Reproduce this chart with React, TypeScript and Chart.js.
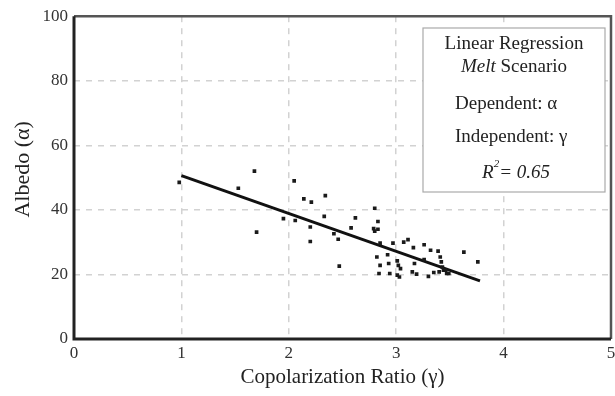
import React, { useEffect, useRef } from "react";
import { Chart, registerables } from "chart.js";

Chart.register(...registerables);

const xTicks = [0, 1, 2, 3, 4, 5];
const yTicks = [0, 20, 40, 60, 80, 100];

const ratioValues = [
  0.98, 1.53, 1.68, 1.70, 1.95, 2.05, 2.06, 2.14, 2.21, 2.34,
  2.20, 2.20, 2.33, 2.42, 2.46, 2.47, 2.58, 2.62, 2.80, 2.83,
  2.79, 2.83, 2.80, 2.85, 2.82, 2.85, 2.84, 2.92, 2.93, 2.94,
  2.97, 3.01, 3.02, 3.04, 3.01, 3.03, 3.07, 3.11, 3.16, 3.15,
  3.17, 3.19, 3.26, 3.26, 3.30, 3.32, 3.35, 3.39, 3.41, 3.42,
  3.43, 3.44, 3.40, 3.46, 3.47, 3.49, 3.63, 3.76,
];
const albedoValues = [
  48.5, 46.7, 52.0, 33.1, 37.3, 49.0, 36.7, 43.4, 42.4, 44.4,
  34.7, 30.2, 38.0, 32.6, 30.9, 22.6, 34.4, 37.5, 40.5, 36.4,
  34.2, 34.0, 33.4, 29.7, 25.4, 22.8, 20.3, 26.1, 23.4, 20.3,
  29.7, 24.2, 22.8, 21.8, 19.8, 19.2, 30.0, 30.8, 28.3, 20.8,
  23.4, 20.1, 29.2, 24.6, 19.4, 27.5, 20.6, 27.2, 25.4, 23.9,
  22.3, 21.3, 20.8, 21.3, 20.3, 20.3, 26.9, 23.9,
];

const fitX = [1.0, 3.78];
const fitY = [50.6, 18.0];

const boxLines = ["Linear Regression", "Melt Scenario", "Dependent: α", "Independent: γ", "R2= 0.65"];

const SERIF = "'Liberation Serif', 'DejaVu Serif', serif";

const framePlugin = {
  id: "frame",
  afterDraw(chart: any) {
    const { ctx, chartArea } = chart;
    const { left, top, right, bottom } = chartArea;
    ctx.save();
    ctx.setLineDash([]);
    ctx.strokeStyle = "#555";
    ctx.lineWidth = 2.5;
    ctx.beginPath();
    ctx.moveTo(left, top);
    ctx.lineTo(right, top);
    ctx.lineTo(right, bottom);
    ctx.stroke();
    ctx.strokeStyle = "#222";
    ctx.lineWidth = 3;
    ctx.beginPath();
    ctx.moveTo(left, top);
    ctx.lineTo(left, bottom);
    ctx.lineTo(right, bottom);
    ctx.stroke();

    const bx0 = 423, by0 = 28, bx1 = 605, by1 = 192;
    ctx.fillStyle = "#fff";
    ctx.fillRect(bx0, by0, bx1 - bx0, by1 - by0);
    ctx.strokeStyle = "#aaa";
    ctx.lineWidth = 1.2;
    ctx.strokeRect(bx0, by0, bx1 - bx0, by1 - by0);

    ctx.fillStyle = "#222";
    ctx.textBaseline = "middle";
    const fs = 19;
    const cx = (bx0 + bx1) / 2;
    ctx.font = `${fs}px ${SERIF}`;
    ctx.textAlign = "center";
    ctx.fillText(boxLines[0], cx, 44);
    const [meltWord, ...rest] = boxLines[1].split(" ");
    const restText = " " + rest.join(" ");
    ctx.font = `italic ${fs}px ${SERIF}`;
    const w1 = ctx.measureText(meltWord).width;
    ctx.font = `${fs}px ${SERIF}`;
    const w2 = ctx.measureText(restText).width;
    const sx = cx - (w1 + w2) / 2;
    ctx.textAlign = "left";
    ctx.font = `italic ${fs}px ${SERIF}`;
    ctx.fillText(meltWord, sx, 67);
    ctx.font = `${fs}px ${SERIF}`;
    ctx.fillText(restText, sx + w1, 67);

    ctx.fillText(boxLines[2], 455, 104);
    ctx.fillText(boxLines[3], 455, 137);

    ctx.font = `italic ${fs}px ${SERIF}`;
    const rW = ctx.measureText("R").width;
    ctx.font = `italic 11px ${SERIF}`;
    const supW = ctx.measureText("2").width;
    ctx.font = `italic ${fs}px ${SERIF}`;
    const tail = boxLines[4].slice(2);
    const tW = ctx.measureText(tail).width;
    const rx = cx - (rW + supW + tW) / 2 + 2;
    ctx.fillText("R", rx, 173);
    ctx.font = `italic 11px ${SERIF}`;
    ctx.fillText("2", rx + rW, 164);
    ctx.font = `italic ${fs}px ${SERIF}`;
    ctx.fillText(tail, rx + rW + supW, 173);
    ctx.restore();
  },
};

export default function App() {
  const ref = useRef<HTMLCanvasElement>(null);

  useEffect(() => {
    if (!ref.current) return;
    const points = ratioValues.map((x, i) => ({ x, y: albedoValues[i] }));
    const fit = fitX.map((x, i) => ({ x, y: fitY[i] }));
    const gridColor = (ctx: any) => {
      const v = ctx.tick?.value;
      return v === ctx.scale.min || v === ctx.scale.max ? "rgba(0,0,0,0)" : "#d2d2d2";
    };
    const chart = new Chart(ref.current, {
      type: "scatter",
      data: {
        datasets: [
          {
            data: points,
            pointStyle: "rect",
            pointRadius: 2.6,
            backgroundColor: "#1a1a1a",
            borderColor: "#1a1a1a",
            borderWidth: 0,
          },
          {
            type: "line",
            data: fit,
            borderColor: "#111",
            borderWidth: 3,
            pointRadius: 0,
            fill: false,
          } as any,
        ],
      },
      options: {
        responsive: false,
        animation: false,
        events: [],
        layout: { padding: { left: 0, top: 15, right: 2, bottom: 0 } },
        plugins: { legend: { display: false }, tooltip: { enabled: false } },
        scales: {
          x: {
            type: "linear",
            min: 0,
            max: 5,
            afterBuildTicks: (s: any) => {
              s.ticks = xTicks.map((v) => ({ value: v }));
            },
            afterFit: (s: any) => {
              s.height = 57;
              s.paddingRight = 0;
              s.paddingLeft = 0;
            },
            ticks: {
              color: "#333",
              font: { family: SERIF, size: 17 },
              padding: 4,
              maxRotation: 0,
              autoSkip: false,
            },
            grid: { color: gridColor, lineWidth: 1.5, drawTicks: false },
            border: { display: false, dash: [6, 6] },
            title: {
              display: true,
              text: "Copolarization Ratio (γ)",
              color: "#222",
              font: { family: SERIF, size: 21 },
              padding: { top: 0, bottom: 6 },
            },
          },
          y: {
            type: "linear",
            min: 0,
            max: 100,
            afterBuildTicks: (s: any) => {
              s.ticks = yTicks.map((v) => ({ value: v }));
            },
            afterFit: (s: any) => {
              s.width = 74;
            },
            ticks: {
              color: "#333",
              font: { family: SERIF, size: 17 },
              padding: 6,
              autoSkip: false,
            },
            grid: { color: gridColor, lineWidth: 1.5, drawTicks: false },
            border: { display: false, dash: [6, 6] },
            title: {
              display: true,
              text: "   Albedo (α)",
              color: "#222",
              font: { family: SERIF, size: 22 },
              padding: { top: 10, bottom: 0 },
            },
          },
        },
      },
      plugins: [framePlugin],
    });
    return () => chart.destroy();
  }, []);

  return (
    <div style={{ position: "absolute", left: 0, top: 0, width: 615, height: 396, background: "#fff" }}>
      <canvas ref={ref} width={615} height={396} style={{ width: 615, height: 396, display: "block" }} />
    </div>
  );
}
